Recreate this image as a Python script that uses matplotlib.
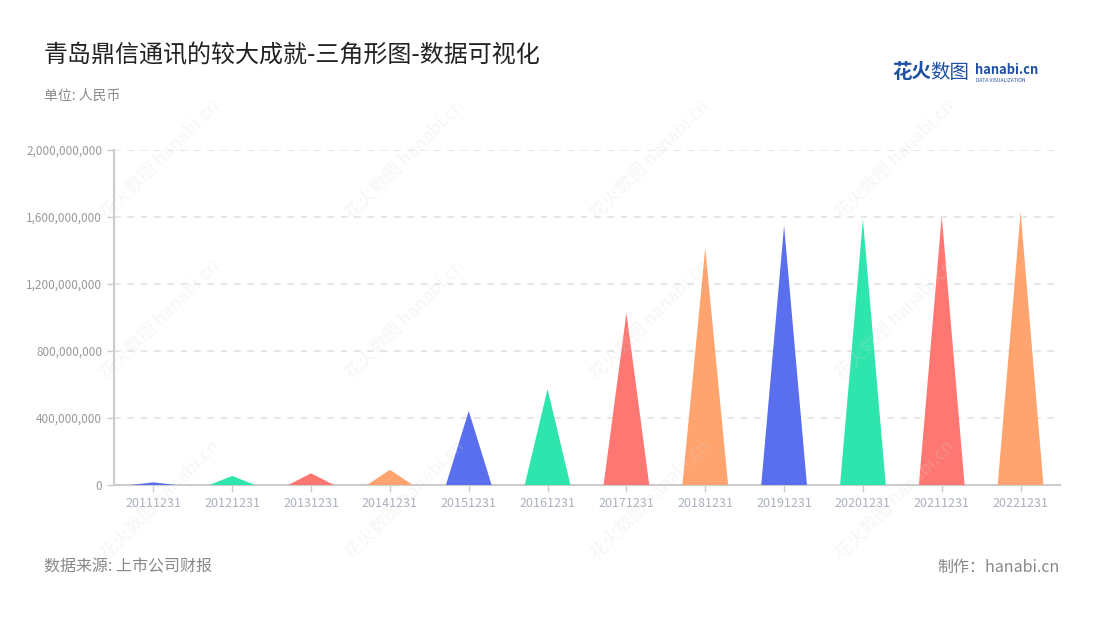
import matplotlib
matplotlib.use("Agg")
import matplotlib.pyplot as plt
from matplotlib.ticker import FuncFormatter

plt.rcParams['font.family'] = ['Noto Sans CJK SC', 'DejaVu Sans']

categories = ["20111231", "20121231", "20131231", "20141231", "20151231", "20161231",
              "20171231", "20181231", "20191231", "20201231", "20211231", "20221231"]
values = [16e6, 54e6, 70e6, 91e6, 442e6, 573e6,
          1027e6, 1413e6, 1548e6, 1586e6, 1606e6, 1632e6]
palette = ["#5a6fee", "#2ee6ad", "#ff7772", "#ffa36f"]
yticks = [0, 400e6, 800e6, 1200e6, 1600e6, 2000e6]

title = "青岛鼎信通讯的较大成就-三角形图-数据可视化"
unit = "单位: 人民币"
source = "数据来源: 上市公司财报"
credit = "制作：hanabi.cn"

fig = plt.figure(figsize=(11, 6.2), dpi=100)
ax = fig.add_axes([114/1100, 1-485/620, 946/1100, 335/620])

half = 0.29
for i, v in enumerate(values):
    ax.fill([i - half, i, i + half], [0, v, 0], color=palette[i % 4], lw=0, zorder=3)

ax.set_xlim(-0.5, len(categories) - 0.5)
ax.set_ylim(0, 2000e6)
ax.set_xticks(range(len(categories)))
ax.set_xticklabels(categories)
ax.set_yticks(yticks)
ax.yaxis.set_major_formatter(FuncFormatter(lambda v, p: f"{int(v):,}"))
ax.grid(axis='y', color='#e3e3e3', ls=(0, (4, 4)), lw=1.2, zorder=0)
for s in ['top', 'right']:
    ax.spines[s].set_visible(False)
for s in ['left', 'bottom']:
    ax.spines[s].set_color('#cccccc')
    ax.spines[s].set_linewidth(1.5)
ax.tick_params(axis='y', colors='#cccccc', labelcolor='#999999', labelsize=8.5, length=5, width=1)
ax.tick_params(axis='x', colors='#cccccc', labelcolor='#aab0be', labelsize=9, length=5, width=1)

# watermarks
for wx in [160, 405, 650, 895]:
    for wy in [160, 320, 500]:
        fig.text(wx/1100, 1-wy/620, "花火数图 hanabi.cn", rotation=45, fontsize=13,
                 color='#d8d8d8', alpha=0.22, ha='center', va='center', zorder=0)

fig.text(44/1100, 1-55/620, title, fontsize=17.3, color='#222222', va='center', ha='left')
fig.text(44/1100, 1-96/620, unit, fontsize=10, color='#8a8a8a', va='center', ha='left')
fig.text(44/1100, 1-567/620, source, fontsize=11.5, color='#888888', va='center', ha='left')
fig.text(1060/1100, 1-567/620, credit, fontsize=11.5, color='#888888', va='center', ha='right')

# logo
fig.text(892/1100, 1-73/620, "花火", fontsize=14, color='#1d4fa3', fontweight='bold', va='center', ha='left')
fig.text(930/1100, 1-73/620, "数图", fontsize=14, color='#1d4fa3', va='center', ha='left')
fig.text(975/1100, 1-70/620, "hanabi.cn", fontsize=9.3, color='#1d4fa3', fontweight='bold', va='center', ha='left')
fig.text(976/1100, 1-80/620, "DATA VISUALIZATION", fontsize=3.6, color='#1d4fa3', va='center', ha='left')

fig.savefig("out.png", dpi=100)
